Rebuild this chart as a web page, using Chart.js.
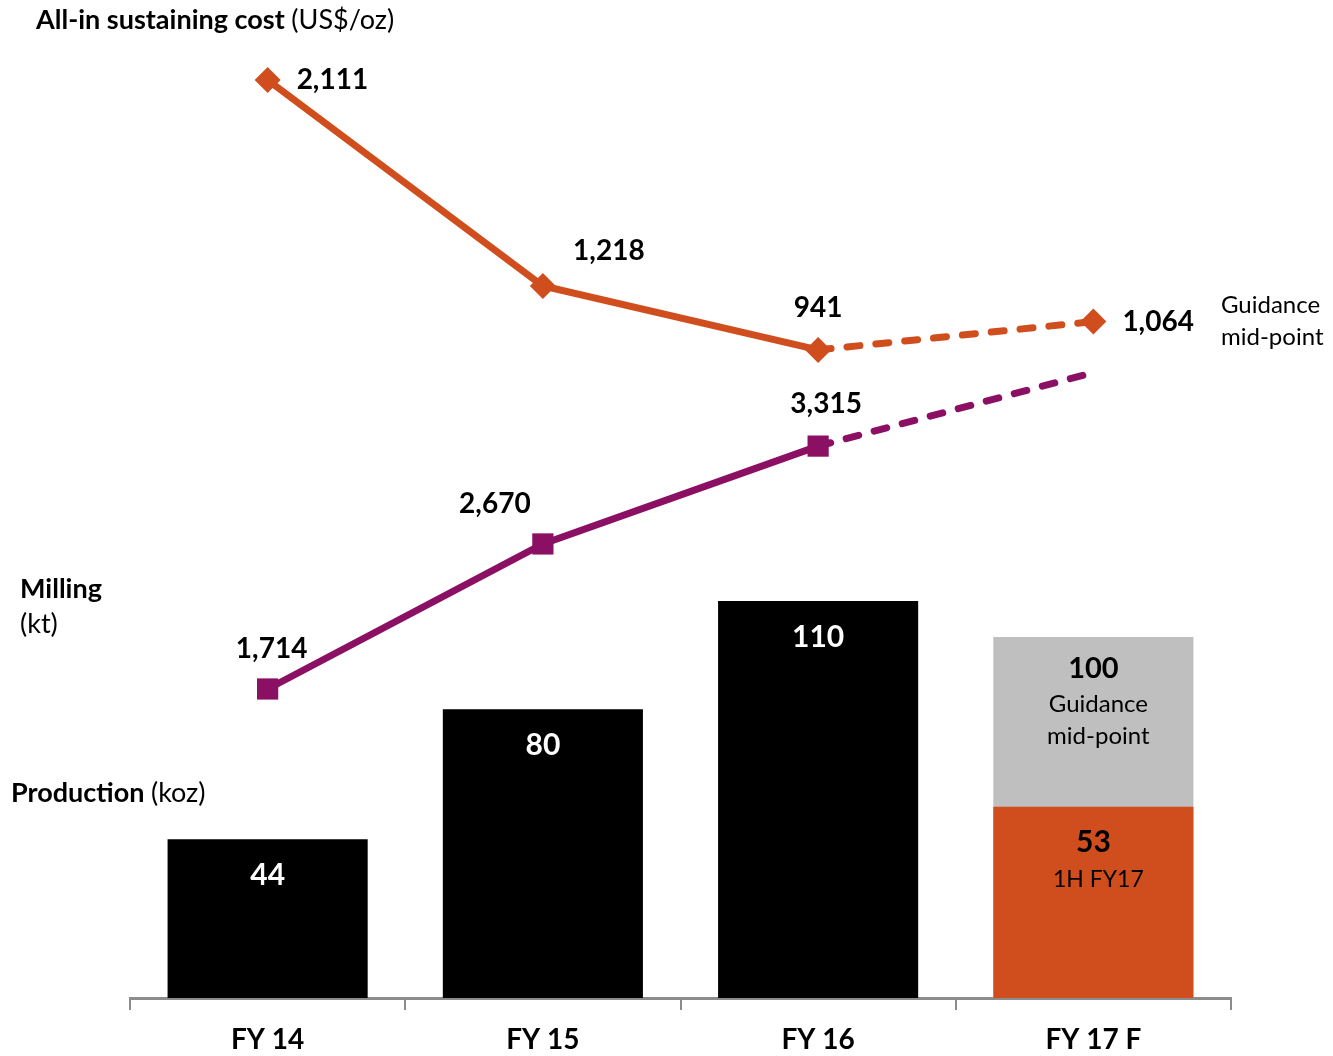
<!DOCTYPE html>
<html>
<head>
<meta charset="utf-8">
<script src="https://cdn.jsdelivr.net/npm/chart.js@4.4.1/dist/chart.umd.min.js"></script>
<style>
  html, body { margin: 0; padding: 0; background: #fff; }
</style>
</head>
<body>
<canvas id="mineChart" width="1333" height="1056"></canvas>
<script>
// Chart data
const years = ['FY 14', 'FY 15', 'FY 16', 'FY 17 F'];
const production = [44, 80, 110, 100];        // koz, FY17 = guidance mid-point
const production1H = [null, null, null, 53];  // koz, 1H FY17 actual
const aisc = [2111, 1218, 941, 1064];         // US$/oz
const milling = [1714, 2670, 3315, 3800];     // kt

const FONT = 'Lato, "Open Sans", sans-serif';
const ORANGE = '#d04e1e';
const PURPLE = '#8b1064';
const GREY = '#bfbfbf';

// label placement relative to each point: [dx, dy, align]
const aiscLabelPos = [[29, 0, 'left'], [66, -35, 'center'], [0, -42, 'center'], [29, 0, 'left']];
const millLabelPos = [[4, -40, 'center'], [-48, -40, 'center'], [8, -42, 'center'], null];

// forecast segment (FY16 -> FY17) is dashed
const dashFromFY16 = ctx => ctx.p1DataIndex === 3 ? [13, 16] : undefined;

function fmt(v) {
    return v.toLocaleString('en-US');
}

// Draws the free-standing titles and all value labels
const labelPlugin = {
    id: 'labels',
    afterDatasetsDraw(chart) {
        const ctx = chart.ctx;
        ctx.save();
        ctx.textBaseline = 'middle';

        function mixed(x, y, boldText, normalText, size) {
            ctx.textAlign = 'left';
            ctx.fillStyle = '#000';
            ctx.font = `bold ${size}px ${FONT}`;
            ctx.fillText(boldText, x, y);
            if (normalText) {
                const w = ctx.measureText(boldText + ' ').width;
                ctx.font = `${size}px ${FONT}`;
                ctx.fillText(normalText, x + w, y);
            }
        }

        // axis titles
        mixed(36, 20, 'All-in sustaining cost', '(US$/oz)', 27);
        mixed(20, 589, 'Milling', '', 27);
        ctx.font = `27px ${FONT}`;
        ctx.fillText('(kt)', 20, 624);
        mixed(11, 793, 'Production', '(koz)', 27);

        ctx.font = `24px ${FONT}`;
        ctx.textAlign = 'left';
        ctx.fillText('Guidance', 1221, 305);
        ctx.fillText('mid-point', 1221, 337);

        // line labels
        const lineLabels = (dsIndex, values, pos) => {
            const pts = chart.getDatasetMeta(dsIndex).data;
            ctx.font = `bold 28px ${FONT}`;
            ctx.fillStyle = '#000';
            pts.forEach((p, i) => {
                if (!pos[i]) return;
                const [dx, dy, align] = pos[i];
                ctx.textAlign = align;
                ctx.fillText(fmt(values[i]), p.x + dx, p.y + dy);
            });
        };
        lineLabels(0, aisc, aiscLabelPos);
        lineLabels(1, milling, millLabelPos);

        // bar labels
        const bars = chart.getDatasetMeta(3).data;
        ctx.textAlign = 'center';
        bars.forEach((b, i) => {
            if (i < 3) {
                ctx.fillStyle = '#fff';
                ctx.font = `bold 30px ${FONT}`;
                ctx.fillText(fmt(production[i]), b.x, b.y + 36);
            } else {
                ctx.fillStyle = '#000';
                ctx.font = `bold 29px ${FONT}`;
                ctx.fillText(fmt(production[i]), b.x, b.y + 32);
                ctx.font = `24px ${FONT}`;
                ctx.fillText('Guidance', b.x + 5, b.y + 67);
                ctx.fillText('mid-point', b.x + 5, b.y + 99);
            }
        });
        const h1 = chart.getDatasetMeta(2).data[3];
        ctx.fillStyle = '#000';
        ctx.font = `bold 30px ${FONT}`;
        ctx.fillText(fmt(production1H[3]), h1.x, h1.y + 36);
        ctx.font = `23px ${FONT}`;
        ctx.fillText('1H FY17', h1.x + 5, h1.y + 73);

        ctx.restore();
    }
};

const ctx = document.getElementById('mineChart').getContext('2d');

new Chart(ctx, {
    data: {
        labels: years,
        datasets: [
            {
                type: 'line',
                label: 'All-in sustaining cost',
                data: aisc,
                yAxisID: 'yCost',
                borderColor: ORANGE,
                backgroundColor: ORANGE,
                borderWidth: 7,
                borderCapStyle: 'round',
                pointStyle: 'rectRot',
                pointRadius: 13,
                pointBorderWidth: 0,
                tension: 0,
                order: 0,
                segment: { borderDash: dashFromFY16 }
            },
            {
                type: 'line',
                label: 'Milling',
                data: milling,
                yAxisID: 'yMill',
                borderColor: PURPLE,
                backgroundColor: PURPLE,
                borderWidth: 7,
                borderCapStyle: 'round',
                pointStyle: 'rect',
                pointRadius: [15, 15, 15, 0],
                pointBorderWidth: 0,
                tension: 0,
                order: 0,
                segment: { borderDash: dashFromFY16 }
            },
            {
                type: 'bar',
                label: '1H FY17',
                data: production1H,
                yAxisID: 'yBar',
                backgroundColor: ORANGE,
                categoryPercentage: 1,
                barPercentage: 0.727,
                order: 1
            },
            {
                type: 'bar',
                label: 'Production',
                data: production,
                yAxisID: 'yBar',
                backgroundColor: ['#000', '#000', '#000', GREY],
                categoryPercentage: 1,
                barPercentage: 0.727,
                order: 2
            }
        ]
    },
    options: {
        responsive: false,
        animation: false,
        devicePixelRatio: 1,
        layout: {
            padding: { left: 130, right: 102, top: 40, bottom: 0 }
        },
        plugins: {
            legend: { display: false },
            tooltip: { enabled: false }
        },
        scales: {
            x: {
                stacked: true,
                offset: true,
                afterFit(scale) {
                    scale.height = 58;
                },
                grid: {
                    offset: true,
                    drawOnChartArea: false,
                    tickLength: 12,
                    color: '#8c8c8c',
                    lineWidth: 2
                },
                border: { color: '#8c8c8c', width: 3 },
                ticks: {
                    color: '#000',
                    padding: 13,
                    font: { family: FONT, size: 28, weight: 'bold' }
                }
            },
            yBar: { display: false, stacked: false, min: 0, max: 265.4 },
            yCost: { display: false, min: -1868, max: 2284.4 },
            yMill: { display: false, min: -323, max: 5992 }
        }
    },
    plugins: [labelPlugin]
});
</script>
</body>
</html>
